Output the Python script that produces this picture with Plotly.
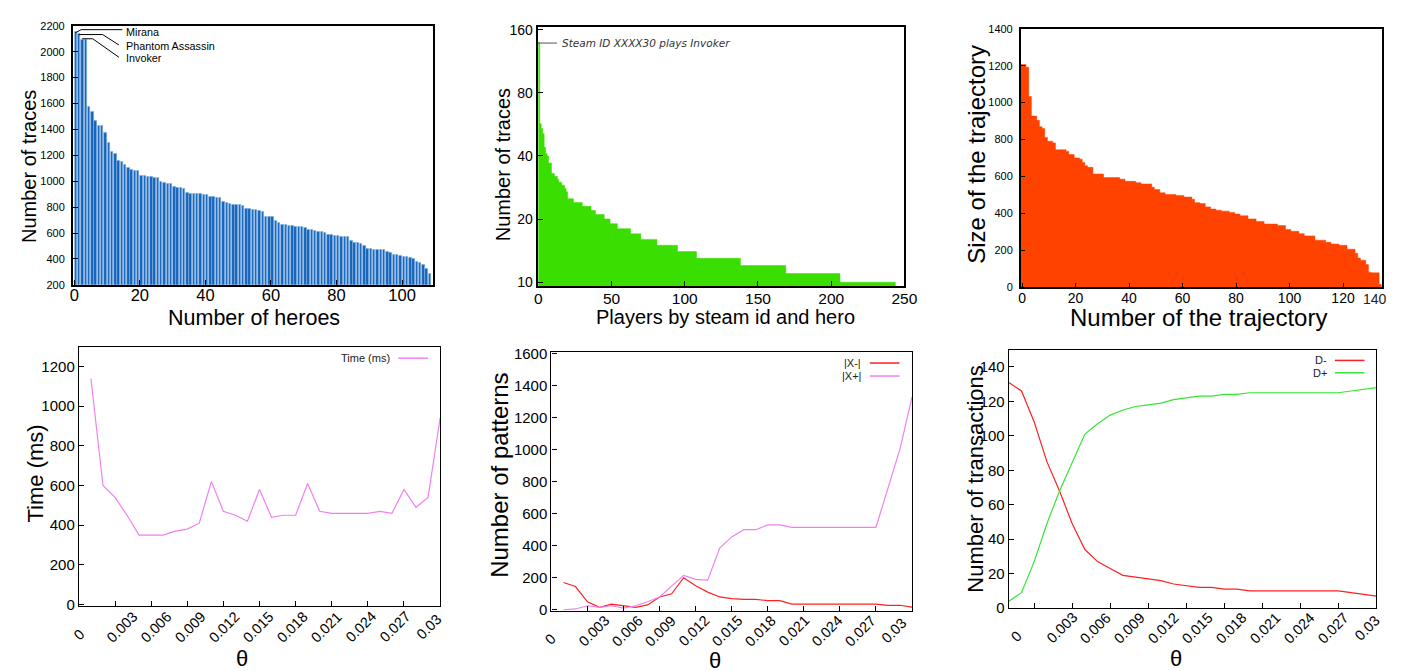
import plotly.graph_objects as go
import numpy as np

W, H = 1412, 671
FONT = "Liberation Sans, Arial, sans-serif"

# ---------------- data ----------------
# Panel 1: number of traces per hero (sorted)
hero_traces = [2150, 2137, 2094, 2094, 1571, 1536, 1470, 1428, 1425, 1377, 1294, 1226, 1211,
               1156, 1151, 1128, 1106, 1091, 1080, 1078, 1045, 1040, 1038, 1033, 1030, 1028,
               992, 990, 982, 980, 955, 952, 947, 945, 907, 902, 900, 900, 900, 897, 895, 882,
               877, 874, 872, 844, 836, 826, 821, 819, 816, 811, 786, 784, 781, 781, 771, 764,
               728, 726, 723, 698, 678, 665, 660, 655, 653, 650, 648, 645, 643, 628, 623, 615,
               613, 610, 603, 590, 585, 577, 577, 575, 572, 570, 542, 527, 522, 517, 505, 477,
               477, 474, 472, 472, 467, 459, 447, 436, 434, 421, 419, 414, 411, 399, 381, 371,
               358, 328, 288]
hero_rank = list(range(1, len(hero_traces) + 1))
hero_names = ["Mirana", "Phantom Assassin", "Invoker"]

# Panel 2: traces per (steam id, hero) -- level and number of players at that level
player_levels = [139, 57, 54, 51, 44, 41, 40, 37, 33, 32, 31, 30, 29, 28, 27,
                 25, 24, 23, 22, 21, 20, 19, 18, 17, 16, 15, 14, 13, 12, 11, 10]
player_counts = [1, 1, 1, 1, 1, 1, 1, 2, 2, 2, 1, 2, 2, 1, 1,
                 4, 6, 6, 3, 6, 4, 5, 9, 7, 11, 14, 13, 30, 31, 37, 38]
player_note = "Steam ID XXXX30 plays Invoker"

# Panel 3: size of each trajectory -- level and number of trajectories at that level
traj_levels = [1206, 1192, 1033, 927, 904, 870, 860, 812, 791, 782, 745, 736, 719, 701, 694,
               676, 659, 650, 614, 595, 586, 574, 567, 560, 542, 530, 512, 503, 498, 489, 477,
               459, 454, 436, 424, 418, 413, 406, 397, 388, 371, 357, 343, 335, 314, 304, 291,
               279, 256, 244, 235, 228, 207, 185, 159, 147, 124, 83, 79, 16]
traj_counts = [2, 1, 1, 2, 1, 1, 1, 1, 2, 1, 4, 1, 2, 2, 1,
               1, 1, 2, 4, 6, 2, 4, 2, 4, 1, 2, 2, 4, 3, 3, 1,
               2, 2, 2, 2, 2, 3, 2, 2, 3, 3, 3, 5, 3, 2, 3, 2,
               4, 4, 2, 3, 3, 3, 1, 1, 2, 1, 1, 3, 1]

# Panels 4-6: theta sweep
theta = [0.001, 0.002, 0.003, 0.004, 0.005, 0.006, 0.007, 0.008, 0.009, 0.010,
         0.011, 0.012, 0.013, 0.014, 0.015, 0.016, 0.017, 0.018, 0.019, 0.020,
         0.021, 0.022, 0.023, 0.024, 0.025, 0.026, 0.027, 0.028, 0.029, 0.030]
time_ms = [1140, 600, 540, 450, 350, 350, 350, 370, 380, 410,
           620, 470, 450, 420, 580, 440, 450, 450, 610, 470,
           460, 460, 460, 460, 470, 460, 580, 490, 540, 940]
x_minus = [170, 145, 50, 15, 35, 25, 15, 30, 80, 100,
           200, 150, 110, 80, 70, 65, 65, 57, 57, 35,
           35, 35, 35, 35, 35, 35, 35, 28, 28, 16]
x_plus = [0, 5, 25, 15, 25, 10, 25, 50, 80, 150,
          215, 190, 185, 385, 455, 500, 500, 530, 530, 515,
          515, 515, 515, 515, 515, 515, 515, 760, 1005, 1330]
d_minus = [131, 126, 108, 85, 68, 49, 34, 27, 23, 19,
           18, 17, 16, 14, 13, 12, 12, 11, 11, 10,
           10, 10, 10, 10, 10, 10, 10, 9, 8, 7]
d_plus = [4, 9, 27, 49, 68, 85, 101, 107, 112, 115,
          117, 118, 119, 121, 122, 123, 123, 124, 124, 125,
          125, 125, 125, 125, 125, 125, 125, 126, 127, 128]
theta_labels = ["0", "0.003", "0.006", "0.009", "0.012", "0.015",
                "0.018", "0.021", "0.024", "0.027", "0.03"]
theta_ticks = [0.003, 0.006, 0.009, 0.012, 0.015, 0.018, 0.021, 0.024, 0.027, 0.030]

# ---------------- colours ----------------
BLUE = "#1764ba"
BLUE_EDGE = "#7fb1e2"
GREEN_FILL = "#3ade00"
ORANGE = "#ff4200"
VIOLET = "#f080f0"
RED = "#ff2020"
GREEN = "#33e633"

def X(px):
    return px / W

def Y(py):
    return 1 - py / H

fig = go.Figure()

# Panel 1 bars
fig.add_trace(go.Bar(x=[r - 0.5 for r in hero_rank], y=hero_traces, width=0.74,
                     marker=dict(color=BLUE, line=dict(color=BLUE_EDGE, width=0.6)),
                     xaxis="x", yaxis="y", showlegend=False))

# Panel 2 step area
edges2 = np.concatenate([[0], np.cumsum(player_counts)])
fig.add_trace(go.Scatter(x=list(edges2[:-1]) + [edges2[-1]],
                         y=player_levels + [player_levels[-1]],
                         mode="lines", line=dict(shape="hv", color=GREEN_FILL, width=0.5),
                         fill="tozeroy", fillcolor=GREEN_FILL,
                         xaxis="x2", yaxis="y2", showlegend=False))

# Panel 3 step area
edges3 = np.concatenate([[0], np.cumsum(traj_counts)]) - 0.5
fig.add_trace(go.Scatter(x=list(edges3[:-1]) + [edges3[-1]],
                         y=traj_levels + [traj_levels[-1]],
                         mode="lines", line=dict(shape="hv", color=ORANGE, width=0.5),
                         fill="tozeroy", fillcolor=ORANGE,
                         xaxis="x3", yaxis="y3", showlegend=False))

# Panel 4
fig.add_trace(go.Scatter(x=theta, y=time_ms, mode="lines", line=dict(color=VIOLET, width=1.2),
                         xaxis="x4", yaxis="y4", showlegend=False))
# Panel 5
fig.add_trace(go.Scatter(x=theta, y=x_minus, mode="lines", line=dict(color=RED, width=1.2),
                         xaxis="x5", yaxis="y5", showlegend=False))
fig.add_trace(go.Scatter(x=theta, y=x_plus, mode="lines", line=dict(color=VIOLET, width=1.2),
                         xaxis="x5", yaxis="y5", showlegend=False))
# Panel 6
fig.add_trace(go.Scatter(x=theta, y=d_minus, mode="lines", line=dict(color=RED, width=1.2),
                         xaxis="x6", yaxis="y6", showlegend=False))
fig.add_trace(go.Scatter(x=theta, y=d_plus, mode="lines", line=dict(color=GREEN, width=1.2),
                         xaxis="x6", yaxis="y6", showlegend=False))


def axis(px0, px1, anchor, rng, size, lw=1.5, horizontal=True, **kw):
    if horizontal:
        dom = [X(px0), X(px1)]
    else:
        dom = [Y(px1), Y(px0)]
    d = dict(domain=dom, anchor=anchor, range=rng, showline=True, mirror=True,
             linecolor="black", linewidth=lw, ticks="inside", ticklen=5, tickwidth=1.2,
             tickcolor="black", showgrid=False, zeroline=False,
             tickfont=dict(family=FONT, size=size, color="black"))
    d.update(kw)
    return d

layout = dict(
    width=W, height=H, autosize=False, margin=dict(l=0, r=0, t=0, b=0),
    paper_bgcolor="white", plot_bgcolor="white", bargap=0,
    xaxis=axis(61.7, 426, "y", [-0.4, 109.4], 16.5, lw=2,
               tickvals=[0, 20, 40, 60, 80, 100], ticklabelstandoff=-6),
    yaxis=axis(11, 276, "x", [200, 2200], 11, lw=2, horizontal=False,
               tickvals=list(range(200, 2201, 200)), ticklabelstandoff=4),
    xaxis2=axis(532, 903.3, "y2", [-0.5, 250], 15.5, lw=2,
                tickvals=[0, 50, 100, 150, 200, 250], ticklabelstandoff=-3),
    yaxis2=axis(12.7, 277.7, "x2", [0.9795, 2.2148], 14, lw=2, horizontal=False,
                type="log", tickvals=[10, 20, 40, 80, 160]),
    xaxis3=axis(1021, 1386.5, "y3", [-0.5, 134.5], 14,
                tickvals=[0, 20, 40, 60, 80, 100, 120], ticklabelstandoff=-3),
    yaxis3=axis(14, 278.7, "x3", [0, 1400], 11, horizontal=False,
                tickvals=list(range(0, 1401, 200)), ticklabelstandoff=4),
    xaxis4=axis(67.7, 433.3, "y4", [0, 0.030], 14, lw=1.3,
                tickvals=theta_ticks, showticklabels=False),
    yaxis4=axis(339.3, 605, "x4", [-10, 1300], 15, lw=1.3, horizontal=False,
                tickvals=list(range(0, 1201, 200))),
    xaxis5=axis(546, 911, "y5", [0, 0.030], 14, lw=1.3,
                tickvals=theta_ticks, showticklabels=False),
    yaxis5=axis(345, 610, "x5", [-10, 1608], 15, lw=1.3, horizontal=False,
                tickvals=list(range(0, 1601, 200))),
    xaxis6=axis(1009, 1381, "y6", [0.001, 0.030], 14, lw=1.3,
                tickvals=theta_ticks, showticklabels=False),
    yaxis6=axis(342.3, 606.7, "x6", [0, 150], 15, lw=1.3, horizontal=False,
                tickvals=list(range(0, 141, 20))),
)

ann = []
shapes = []

def text(px, py, t, size, angle=0, xanchor="center", color="black", family=FONT):
    ann.append(dict(xref="paper", yref="paper", x=X(px), y=Y(py), text=t, showarrow=False,
                    textangle=angle, xanchor=xanchor, yanchor="middle",
                    font=dict(family=family, size=size, color=color)))

def seg(points, color="black", width=1):
    path = "M " + " L ".join(f"{X(a)},{Y(b)}" for a, b in points)
    shapes.append(dict(type="path", xref="paper", yref="paper", path=path,
                       line=dict(color=color, width=width)))

# Axis titles
text(16.7, 155, "Number of traces", 20, angle=-90)
text(245, 310, "Number of heroes", 21.5)
text(496.7, 153, "Number of traces", 20, angle=-90)
text(722, 309, "Players by steam id and hero", 20)
text(976.7, 142, "Size of the trajectory", 24, angle=-90)
text(1200.7, 309, "Number of the trajectory", 24)
text(23.3, 469, "Time (ms)", 22, angle=-90)
text(233.3, 658, "θ", 22)
text(493.3, 471, "Number of patterns", 24, angle=-90)
text(711.7, 660, "θ", 22)
text(975, 475, "Number of transactions", 22, angle=-90)
text(1177.7, 658, "θ", 22)
text(1380, 290, "140", 14, color="#222")

# Rotated theta tick labels (evenly spaced, as in the original)
for zero_x, first_x, step, ybase in [(67.5, 111.5, 34.47, 626),
                                      (545, 589, 33.7, 630),
                                      (1016.7, 1062.3, 34.38, 627)]:
    for i, lab in enumerate(theta_labels):
        if i == 0:
            text(zero_x, ybase + 8, lab, 14.5, angle=-45)
        else:
            text(first_x + step * (i - 1), ybase, lab, 14.5, angle=-45)

# Panel 1 hero callouts
seg([(64, 18.3), (70, 15), (111.7, 15)])
seg([(67.7, 20), (91.7, 20), (108.3, 30.7)])
seg([(71, 24.3), (81.7, 24.3), (108.3, 43.3)])
for name, yy in zip(hero_names, [17.5, 32, 44]):
    text(113.3, yy, name, 10.8, xanchor="left")

# Panel 2 callout
seg([(532, 28.7), (551.7, 28.7)], color="#555", width=1)
text(555, 29, "<i>" + player_note + "</i>", 10.5, xanchor="left", color="#333",
     family="DejaVu Sans, sans-serif")

# Legends (text left, line sample right)
def legend(px_text, py, label, x0, x1, color):
    text(px_text, py, label, 11, xanchor="right", color="#222")
    shapes.append(dict(type="line", xref="paper", yref="paper", x0=X(x0), x1=X(x1),
                       y0=Y(py), y1=Y(py), line=dict(color=color, width=1.5)))

legend(384.3, 351, "Time (ms)", 391, 421, VIOLET)
legend(861.7, 356, "|X-|", 868.3, 898.3, RED)
legend(861.7, 369.3, "|X+|", 868.3, 898.3, VIOLET)
legend(1332.7, 353.3, "D-", 1339, 1369, RED)
legend(1332.7, 366, "D+", 1339, 1369, GREEN)

layout["annotations"] = ann
layout["shapes"] = shapes
fig.update_layout(**layout)
fig.write_html("out.html")
